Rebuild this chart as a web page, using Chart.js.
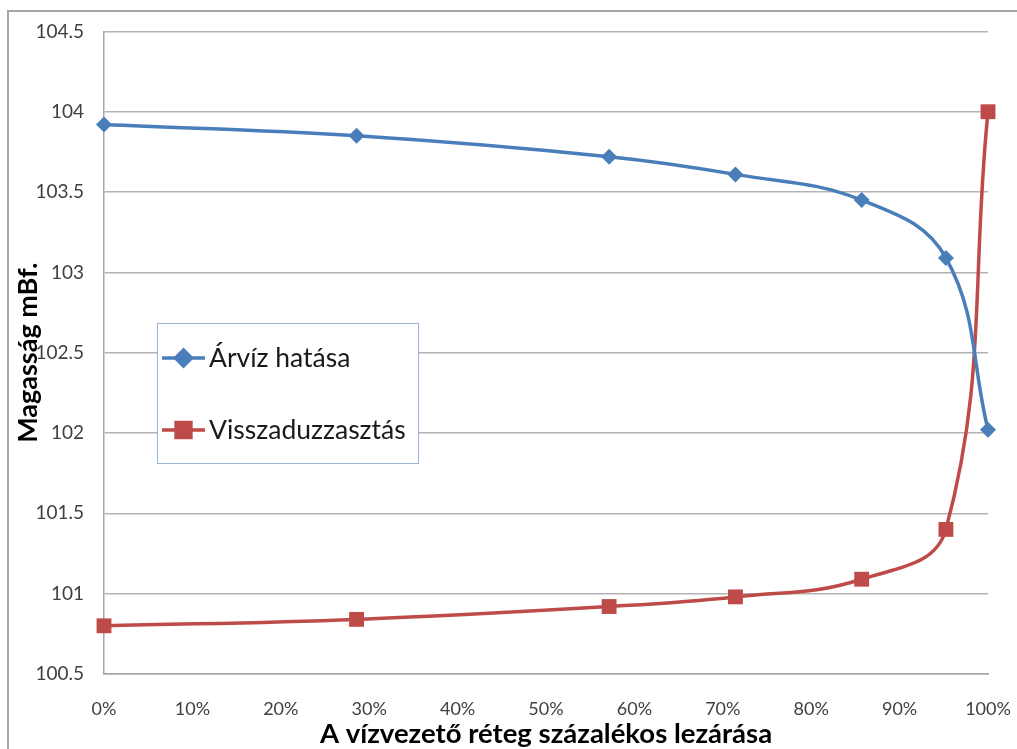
<!DOCTYPE html>
<html>
<head>
<meta charset="utf-8">
<script src="https://cdn.jsdelivr.net/npm/chart.js@4.4.1/dist/chart.umd.min.js"></script>
<style>
  html, body { margin: 0; padding: 0; background: #ffffff; }
  #wrap { width: 1017px; height: 749px; position: relative; }
</style>
</head>
<body>
<div id="wrap"><canvas id="c" width="1017" height="749"></canvas></div>
<script>
// Closure of the aquifer layer (%) and resulting water levels (mBf.)
const closurePct = [0, 28.57, 57.14, 71.43, 85.71, 95.24, 100];
const floodEffect = [103.92, 103.85, 103.72, 103.61, 103.45, 103.09, 102.02];
const backwater = [100.80, 100.84, 100.92, 100.98, 101.09, 101.40, 104.00];
const seriesNames = ['Árvíz hatása', 'Visszaduzzasztás'];
const xTitle = 'A vízvezető réteg százalékos lezárása';
const yTitle = 'Magasság mBf.';

const BLUE = '#4a7ebb';
const RED = '#be4b48';
const FONT = 'Lato, "Open Sans", sans-serif';

const toPoints = (ys) => closurePct.map((x, i) => ({ x: x, y: ys[i] }));

// Outer frame around the chart
const framePlugin = {
  id: 'frame',
  beforeDraw(chart) {
    const ctx = chart.ctx;
    ctx.save();
    ctx.fillStyle = '#ffffff';
    ctx.fillRect(0, 0, chart.width, chart.height);
    ctx.strokeStyle = '#a6a6a6';
    ctx.lineWidth = 2;
    ctx.beginPath();
    ctx.moveTo(8, chart.height);
    ctx.lineTo(8, 11);
    ctx.lineTo(chart.width, 11);
    ctx.stroke();
    ctx.restore();
  }
};

// Boxed legend placed inside the plot area
const boxLegend = {
  id: 'boxLegend',
  afterDatasetsDraw(chart) {
    const ctx = chart.ctx;
    const box = { x: 157, y: 323, w: 261, h: 140 };
    ctx.save();
    ctx.fillStyle = '#ffffff';
    ctx.fillRect(box.x, box.y, box.w, box.h);
    ctx.strokeStyle = '#9bb4d6';
    ctx.lineWidth = 1;
    ctx.strokeRect(box.x + 0.5, box.y + 0.5, box.w, box.h);
    const rows = [box.y + 35, box.y + 107];
    chart.data.datasets.forEach((ds, i) => {
      const y = rows[i];
      ctx.strokeStyle = ds.borderColor;
      ctx.lineWidth = ds.borderWidth;
      ctx.beginPath();
      ctx.moveTo(162, y);
      ctx.lineTo(205, y);
      ctx.stroke();
      Chart.helpers.drawPoint(ctx, {
        pointStyle: ds.pointStyle,
        radius: ds.pointRadius,
        borderWidth: 1
      }, 183.5, y);
      ctx.fillStyle = ds.backgroundColor;
      ctx.fill();
      ctx.fillStyle = '#1a1a1a';
      ctx.font = '26.5px ' + FONT;
      ctx.textBaseline = 'middle';
      ctx.textAlign = 'left';
      ctx.fillText(ds.label, 209, y);
    });
    ctx.restore();
  }
};

new Chart(document.getElementById('c'), {
  type: 'line',
  data: {
    datasets: [
      {
        label: seriesNames[0],
        data: toPoints(floodEffect),
        borderColor: BLUE,
        backgroundColor: BLUE,
        borderWidth: 3.5,
        pointStyle: 'rectRot',
        pointRadius: 8,
        pointBorderWidth: 0,
        tension: 0.4,
        clip: false
      },
      {
        label: seriesNames[1],
        data: toPoints(backwater),
        borderColor: RED,
        backgroundColor: RED,
        borderWidth: 3.5,
        pointStyle: 'rect',
        pointRadius: 10.5,
        pointBorderWidth: 0,
        tension: 0.4,
        clip: false
      }
    ]
  },
  options: {
    responsive: false,
    animation: false,
    devicePixelRatio: 1,
    layout: { padding: { left: 0, right: 29, top: 27, bottom: 0 } },
    plugins: {
      legend: { display: false },
      tooltip: { enabled: false }
    },
    scales: {
      x: {
        type: 'linear',
        min: 0,
        max: 100,
        afterFit(s) { s.height = 75; s.paddingRight = 0; s.paddingLeft = 0; },
        ticks: {
          stepSize: 10,
          callback: (v) => v + '%',
          color: '#404040',
          font: { family: FONT, size: 18 },
          padding: 24,
          maxRotation: 0
        },
        grid: { display: false, drawTicks: false },
        border: { display: true, color: '#a6a6a6', width: 1.5 },
        title: {
          display: true,
          text: xTitle,
          color: '#000000',
          font: { family: FONT, size: 27.5, weight: 'bold' },
          padding: { top: 0, bottom: -2 }
        }
      },
      y: {
        min: 100.5,
        max: 104.5,
        afterFit(s) { s.width = 104; },
        ticks: {
          stepSize: 0.5,
          callback: (v) => String(Math.round(v * 10) / 10),
          color: '#404040',
          font: { family: FONT, size: 19 },
          padding: 20
        },
        grid: { color: '#b3b3b3', lineWidth: 1.5, drawTicks: false },
        border: { display: true, color: '#a6a6a6', width: 1.5 },
        title: {
          display: true,
          text: yTitle,
          color: '#000000',
          font: { family: FONT, size: 27, weight: 'bold' },
          padding: { top: 12, bottom: 0 }
        }
      }
    }
  },
  plugins: [framePlugin, boxLegend]
});
</script>
</body>
</html>
